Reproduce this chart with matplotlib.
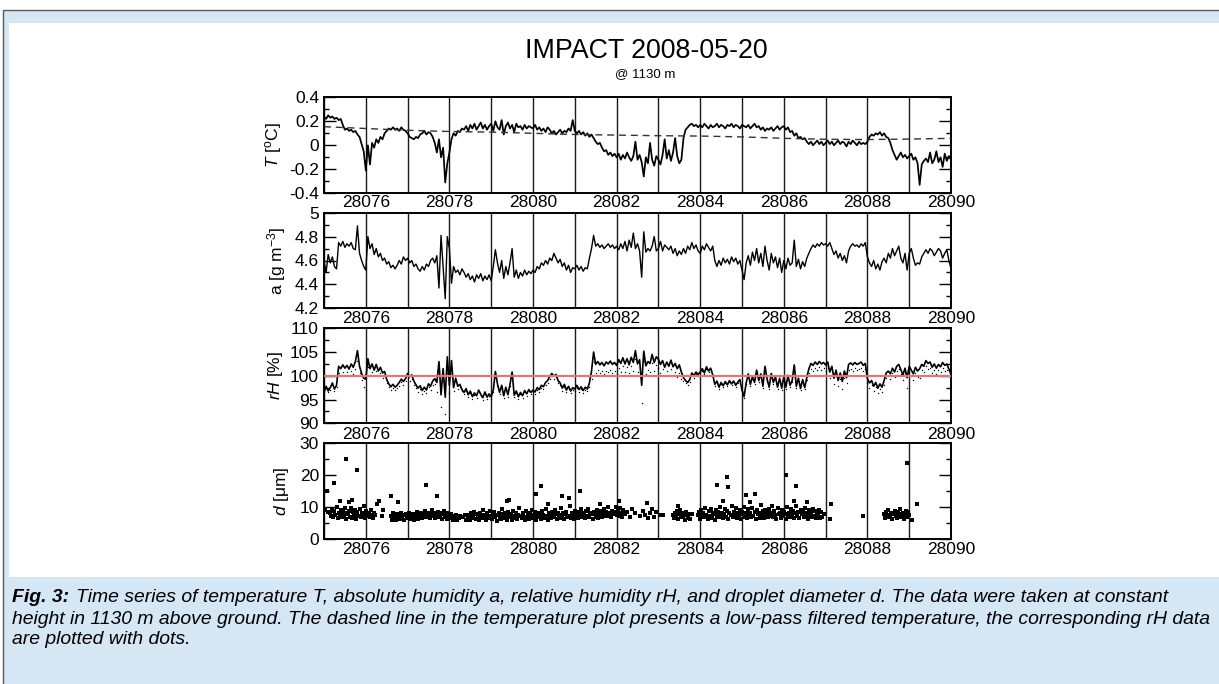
import numpy as np
import matplotlib
matplotlib.use("Agg")
import matplotlib.pyplot as plt
from matplotlib.ticker import MultipleLocator, FormatStrFormatter
from matplotlib.patches import Rectangle
from matplotlib import font_manager

# ---------------------------------------------------------------- data
# line series are sampled every 0.05 from 28075 to 28090
t_start, t_step = 28075.0, 0.05

temp_c = [
    0.24, 0.22, 0.25, 0.23, 0.24, 0.22, 0.23, 0.21, 0.22, 0.17, 0.13, 0.14, 0.12, 0.13, 0.11, 0.12, 0.09, 0.07, 0.01, -0.05,
    -0.21, 0.00, -0.16, 0.02, -0.02, 0.05, 0.02, 0.07, 0.05, 0.10, 0.12, 0.14, 0.13, 0.15, 0.13, 0.14, 0.12, 0.15, 0.13, 0.12,
    0.10, 0.07, 0.06, 0.05, 0.07, 0.06, 0.09, 0.10, 0.12, 0.09, 0.11, 0.10, 0.07, 0.02, -0.06, 0.05, -0.10, -0.02, -0.31, -0.15,
    -0.06, 0.05, 0.10, 0.08, 0.12, 0.11, 0.14, 0.13, 0.16, 0.12, 0.17, 0.14, 0.18, 0.13, 0.16, 0.19, 0.14, 0.17, 0.13, 0.16,
    0.18, 0.12, 0.20, 0.15, 0.13, 0.21, 0.09, 0.16, 0.19, 0.14, 0.17, 0.11, 0.18, 0.15, 0.16, 0.13, 0.17, 0.14, 0.16, 0.15,
    0.14, 0.17, 0.13, 0.15, 0.12, 0.14, 0.11, 0.15, 0.13, 0.10, 0.12, 0.09, 0.11, 0.13, 0.10, 0.12, 0.11, 0.14, 0.12, 0.21,
    0.12, 0.10, 0.12, 0.09, 0.11, 0.08, 0.10, 0.07, 0.09, 0.06, 0.03, 0.01, 0.02, -0.02, -0.05, -0.04, -0.08, -0.06, -0.09, -0.07,
    -0.10, -0.07, -0.12, -0.08, -0.11, -0.06, -0.10, -0.13, -0.09, 0.03, -0.12, -0.08, -0.14, -0.26, -0.10, -0.15, 0.02, -0.12, -0.17, -0.09,
    -0.12, -0.16, -0.08, 0.05, -0.11, -0.04, -0.13, -0.06, 0.06, -0.09, -0.15, -0.12, 0.06, 0.13, 0.15, 0.17, 0.18, 0.16, 0.17, 0.15,
    0.17, 0.15, 0.18, 0.16, 0.14, 0.17, 0.15, 0.16, 0.18, 0.15, 0.17, 0.16, 0.14, 0.17, 0.16, 0.18, 0.15, 0.17, 0.16, 0.14,
    0.17, 0.16, 0.15, 0.17, 0.14, 0.16, 0.18, 0.15, 0.16, 0.13, 0.15, 0.12, 0.14, 0.13, 0.15, 0.12, 0.14, 0.16, 0.13, 0.15,
    0.16, 0.13, 0.15, 0.11, 0.12, 0.08, 0.10, 0.06, 0.07, 0.05, 0.06, 0.03, 0.01, 0.03, 0.00, 0.02, 0.04, 0.01, 0.03, 0.00,
    0.02, 0.04, 0.01, 0.03, 0.00, 0.02, 0.04, 0.01, 0.03, 0.02, -0.01, 0.03, 0.01, 0.04, 0.02, 0.00, 0.03, 0.01, 0.02, 0.01,
    0.03, 0.07, 0.09, 0.08, 0.10, 0.09, 0.11, 0.08, 0.10, 0.07, 0.06, 0.02, -0.04, -0.08, -0.12, -0.09, -0.06, -0.10, -0.08, -0.11,
    -0.09, -0.07, -0.12, -0.10, -0.15, -0.33, -0.16, -0.13, -0.11, -0.14, -0.06, -0.15, -0.12, -0.05, -0.14, -0.10, -0.18, -0.07, -0.13, -0.09,
    -0.12,
]

# low-pass filtered temperature, one value per time unit
temp_lp_t = [28075, 28076, 28077, 28078, 28079, 28080, 28081, 28082,
             28083, 28084, 28085, 28086, 28087, 28088, 28089, 28090]
temp_lp = [0.155, 0.14, 0.125, 0.115, 0.11, 0.10, 0.09, 0.085,
           0.08, 0.077, 0.07, 0.058, 0.05, 0.048, 0.052, 0.058]

abs_hum = [
    4.60, 4.50, 4.65, 4.58, 4.63, 4.55, 4.53, 4.75, 4.72, 4.76, 4.71, 4.74, 4.72, 4.75, 4.70, 4.69, 4.89, 4.66, 4.60, 4.55,
    4.52, 4.80, 4.70, 4.74, 4.65, 4.70, 4.63, 4.66, 4.60, 4.62, 4.57, 4.59, 4.54, 4.56, 4.53, 4.56, 4.60, 4.57, 4.63, 4.60,
    4.62, 4.58, 4.60, 4.55, 4.57, 4.53, 4.51, 4.55, 4.52, 4.57, 4.55, 4.60, 4.62, 4.58, 4.64, 4.37, 4.81, 4.55, 4.28, 4.80,
    4.70, 4.41, 4.55, 4.50, 4.52, 4.48, 4.53, 4.50, 4.46, 4.49, 4.44, 4.47, 4.42, 4.48, 4.45, 4.49, 4.43, 4.47, 4.44, 4.48,
    4.43, 4.55, 4.69, 4.58, 4.50, 4.60, 4.45, 4.55, 4.48, 4.58, 4.70, 4.46, 4.52, 4.45, 4.50, 4.47, 4.52, 4.48, 4.51, 4.49,
    4.52, 4.50, 4.55, 4.53, 4.58, 4.56, 4.60, 4.57, 4.62, 4.60, 4.66, 4.62, 4.58, 4.61, 4.55, 4.58, 4.52, 4.56, 4.50, 4.54,
    4.53, 4.56, 4.52, 4.55, 4.51, 4.54, 4.53, 4.62, 4.70, 4.81, 4.72, 4.74, 4.71, 4.73, 4.70, 4.72, 4.74, 4.71, 4.73, 4.70,
    4.72, 4.69, 4.74, 4.70, 4.76, 4.68, 4.77, 4.71, 4.83, 4.70, 4.74, 4.68, 4.46, 4.84, 4.67, 4.70, 4.68, 4.72, 4.80, 4.68,
    4.70, 4.76, 4.68, 4.73, 4.71, 4.69, 4.72, 4.66, 4.70, 4.64, 4.68, 4.65, 4.70, 4.66, 4.72, 4.69, 4.75, 4.70, 4.73, 4.68,
    4.66, 4.72, 4.69, 4.74, 4.71, 4.68, 4.72, 4.60, 4.55, 4.60, 4.56, 4.62, 4.58, 4.61, 4.57, 4.63, 4.59, 4.62, 4.57, 4.60,
    4.52, 4.44, 4.58, 4.64, 4.56, 4.67, 4.60, 4.70, 4.58, 4.66, 4.55, 4.72, 4.60, 4.52, 4.66, 4.58, 4.63, 4.54, 4.62, 4.50,
    4.60, 4.53, 4.62, 4.56, 4.58, 4.77, 4.55, 4.61, 4.53, 4.59, 4.55, 4.62, 4.66, 4.70, 4.73, 4.71, 4.74, 4.72, 4.75, 4.73,
    4.74, 4.72, 4.75, 4.70, 4.65, 4.68, 4.62, 4.66, 4.60, 4.64, 4.58, 4.68, 4.72, 4.74, 4.72, 4.73, 4.71, 4.74, 4.72, 4.75,
    4.63, 4.58, 4.55, 4.60, 4.53, 4.57, 4.52, 4.59, 4.62, 4.58, 4.66, 4.62, 4.70, 4.64, 4.68, 4.72, 4.62, 4.58, 4.66, 4.52,
    4.66, 4.70, 4.62, 4.56, 4.58, 4.57, 4.63, 4.66, 4.69, 4.66, 4.70, 4.68, 4.64, 4.67, 4.70, 4.68, 4.62, 4.66, 4.69, 4.60,
    4.53,
]

rel_hum = [
    96.5, 97.8, 96.8, 97.5, 98.5, 97.2, 98.0, 102.0, 101.5, 102.3, 101.6, 102.2, 101.4, 102.5, 101.8, 103.0, 105.3, 102.0, 100.5, 99.5,
    99.3, 103.6, 101.5, 102.5, 101.2, 102.4, 101.0, 101.8, 100.6, 100.9, 99.2, 98.3, 97.7, 98.2, 97.6, 98.0, 98.6, 99.3, 98.8, 99.4,
    100.5, 99.8, 100.2, 98.9, 98.1, 97.4, 97.9, 96.9, 97.6, 97.0, 98.3, 97.8, 98.9, 99.4, 98.6, 103.0, 96.0, 101.5, 95.5, 104.0,
    98.0, 103.2, 97.5, 99.5, 97.8, 98.2, 97.1, 96.5, 97.3, 96.0, 96.8, 95.6, 96.4, 95.8, 97.0, 96.1, 95.4, 96.6, 95.5, 96.2,
    95.6, 97.0, 100.9, 98.3, 96.5, 98.0, 95.8, 97.6, 96.0, 98.2, 100.8, 95.9, 96.8, 95.6, 96.5, 95.8, 96.9, 96.2, 97.1, 96.5,
    97.0, 96.6, 97.5, 97.1, 98.0, 97.7, 98.6, 99.0, 99.8, 100.5, 99.9, 100.3, 99.0, 98.5, 97.4, 98.2, 97.0, 97.8, 96.8, 97.5,
    97.2, 98.0, 97.1, 97.7, 96.9, 97.6, 97.2, 98.5, 101.0, 105.0, 102.4, 103.0, 102.3, 102.8, 102.1, 102.9, 102.5, 103.1, 102.4, 102.8,
    102.2, 103.4, 102.6, 103.8, 102.5, 103.6, 102.3, 103.9, 102.8, 105.3, 102.5, 103.4, 98.0, 105.2, 102.1, 103.0, 102.6, 104.5, 102.8, 104.0,
    103.5, 102.4, 103.2, 101.8, 102.9, 102.0, 103.3, 101.9, 102.6, 101.5, 102.3, 100.8, 99.6, 99.0, 98.6, 99.2, 100.6, 100.0, 100.8, 100.3,
    100.8, 101.5, 100.6, 101.9, 101.0, 101.6, 100.2, 98.2, 98.9, 97.6, 98.6, 97.9, 98.8, 98.1, 99.0, 98.3, 98.9, 98.0, 98.7, 99.2,
    97.0, 95.6, 98.5, 100.4, 98.2, 99.8, 98.6, 101.2, 99.0, 100.4, 97.8, 102.0, 99.3, 97.6, 100.5, 98.6, 99.8, 97.6, 99.5, 97.4,
    99.8, 97.6, 100.1, 98.0, 99.0, 102.3, 97.8, 99.5, 97.3, 99.2, 97.5, 99.6, 101.5, 102.6, 102.2, 102.9, 102.4, 103.0, 102.5, 102.8,
    102.3, 102.9, 100.8, 102.0, 99.5, 101.2, 99.0, 100.6, 98.8, 101.0, 99.6, 102.4, 102.7, 102.3, 102.8, 102.4, 102.6, 102.9, 102.2, 102.6,
    99.4, 98.5, 99.0, 97.8, 98.6, 97.4, 98.3, 97.6, 99.0, 100.6, 101.0, 100.4, 101.6, 100.8, 102.0, 102.4, 101.3, 100.2, 101.6, 99.6,
    102.0, 101.2, 100.4, 101.8, 101.0, 101.5, 102.4, 102.0, 103.2, 102.6, 102.9, 101.8, 102.5, 101.6, 102.4, 101.9, 102.8, 102.2, 102.5, 101.4,
    100.3,
]

# rH obtained with the low-pass filtered temperature (dots)
rel_hum_lp = [
    96.2, 97.4, 96.5, 97.1, 98.1, 96.9, 97.6, 100.6, 100.1, 100.7, 100.2, 100.8, 100.0, 101.0, 100.4, 101.4, 103.2, 100.6, 99.2, 97.6,
    97.0, 101.9, 100.2, 100.8, 100.1, 101.0, 100.0, 100.6, 99.6, 99.9, 98.4, 97.6, 97.0, 97.5, 97.0, 97.4, 97.9, 98.6, 98.1, 98.8,
    99.6, 99.0, 99.3, 98.1, 97.4, 96.6, 97.2, 96.1, 96.9, 96.3, 97.6, 97.0, 98.1, 98.3, 96.5, 100.8, 93.5, 99.0, 92.0, 100.5,
    96.4, 101.6, 96.8, 98.9, 97.3, 97.7, 96.7, 96.1, 96.9, 95.6, 96.4, 95.2, 96.0, 95.4, 96.6, 95.7, 95.0, 96.2, 95.1, 95.8,
    95.2, 96.6, 100.4, 97.9, 96.1, 97.6, 95.4, 97.2, 95.6, 97.8, 100.3, 95.5, 96.4, 95.2, 96.1, 95.4, 96.5, 95.8, 96.7, 96.1,
    96.5, 96.1, 97.0, 96.6, 97.5, 97.2, 98.1, 98.5, 99.3, 100.0, 99.4, 99.8, 98.5, 98.0, 96.9, 97.7, 96.5, 97.3, 96.3, 97.0,
    96.7, 97.5, 96.6, 97.2, 96.4, 97.1, 96.7, 97.6, 99.4, 103.0, 100.6, 101.2, 100.5, 101.0, 100.3, 101.1, 100.7, 101.3, 100.6, 101.0,
    100.4, 101.6, 100.8, 102.0, 100.7, 101.8, 100.5, 102.1, 101.0, 103.5, 100.7, 101.6, 94.2, 103.2, 100.3, 101.2, 100.8, 102.7, 101.0, 102.2,
    101.7, 100.6, 101.4, 100.0, 101.1, 100.2, 101.5, 100.1, 100.8, 99.7, 100.5, 99.3, 98.8, 98.4, 98.1, 98.7, 100.1, 99.6, 100.3, 99.9,
    100.5, 101.1, 100.3, 101.5, 100.7, 101.2, 99.9, 97.9, 98.6, 97.3, 98.3, 97.6, 98.5, 97.8, 98.7, 98.0, 98.6, 97.7, 98.4, 98.9,
    96.7, 95.3, 98.2, 100.1, 97.9, 99.5, 98.3, 100.9, 98.7, 100.1, 97.5, 101.7, 99.0, 97.3, 100.2, 98.3, 99.5, 97.3, 99.2, 97.1,
    99.5, 97.3, 99.8, 97.7, 98.7, 102.0, 97.5, 99.2, 97.0, 98.9, 97.2, 99.2, 100.5, 101.4, 101.0, 101.7, 101.2, 101.8, 101.3, 101.6,
    101.1, 101.7, 99.6, 100.8, 98.3, 99.9, 97.8, 99.4, 97.2, 99.6, 98.4, 101.2, 101.5, 101.1, 101.6, 101.2, 101.4, 101.7, 101.0, 101.4,
    98.4, 97.5, 98.0, 96.8, 97.6, 96.4, 97.3, 96.6, 98.0, 99.6, 100.0, 99.4, 100.6, 99.8, 101.0, 101.4, 100.3, 99.2, 100.6, 97.4,
    100.8, 100.0, 99.2, 100.6, 99.8, 99.5, 101.2, 100.8, 102.0, 101.4, 101.7, 100.6, 101.3, 100.4, 101.2, 100.7, 101.6, 101.0, 101.3, 100.2,
    99.1,
]

# droplet diameter: continuous runs sampled every 0.025, with their start times
d_step = 0.025
d_run_starts = [28075.15, 28076.60, 28078.45, 28083.35, 28083.95, 28088.40]
d_run1 = [8.2, 7.1, 9.4, 6.8, 8.7, 7.5, 10.1, 6.5, 8.0, 7.7, 9.0, 6.9, 8.5, 7.3, 9.6, 6.4, 8.1, 7.8, 8.9, 7.0,
          9.8, 6.7, 8.4, 7.6, 9.2, 6.3, 8.6, 7.2, 9.5, 6.9, 8.0, 7.4, 10.3, 6.6, 8.8, 7.9, 7.1, 8.3, 6.8, 9.1,
          7.5, 6.6, 8.2]
d_run2 = [7.2, 6.1, 8.0, 6.6, 7.5, 5.8, 7.9, 6.8, 7.1, 6.3, 8.3, 6.9, 7.4, 5.9, 7.7, 6.5, 7.0, 8.1, 6.2, 7.3,
          6.7, 7.8, 6.0, 7.5, 6.9, 8.4, 6.4, 7.6, 7.0, 8.2, 6.6, 7.9, 7.3, 8.8, 6.8, 7.4, 8.0, 6.5, 7.7, 9.0,
          7.1, 8.3, 6.7, 7.8, 7.2, 8.6, 6.9, 7.5, 8.1, 6.4, 7.9, 8.9, 7.0, 7.6, 6.3, 8.2, 7.4, 6.6, 7.8, 6.1,
          7.2, 6.8, 7.5, 5.9, 7.0, 6.5, 7.3]
d_run3 = [6.8, 7.5, 5.9, 8.1, 6.6, 7.2, 8.6, 6.3, 7.8, 7.0, 6.1, 8.3, 7.4, 6.7, 9.0, 6.9, 7.6, 5.8, 8.0, 7.3,
          6.5, 8.8, 7.1, 6.2, 7.9, 8.4, 6.8, 7.5, 5.7, 8.2, 7.0, 6.4, 9.3, 7.7, 6.6, 8.0, 7.2, 6.0, 8.5, 7.4,
          6.9, 7.8, 5.9, 8.9, 6.7, 7.3, 8.1, 6.3, 7.6, 9.6, 7.1, 6.5, 8.3, 7.0, 5.8, 8.7, 6.8, 7.5, 6.2, 8.0,
          7.4, 9.1, 6.6, 7.2, 8.4, 5.9, 7.7, 6.9, 8.2, 7.0, 6.3, 8.8, 7.5, 6.7, 9.4, 7.1, 6.0, 8.1, 7.6, 6.5,
          8.5, 7.3, 6.8, 9.0, 7.8, 6.2, 8.3, 7.0, 6.6, 9.7, 7.4, 8.0, 6.4, 7.9, 8.6, 6.9, 7.2, 10.2, 6.7, 8.1,
          7.5, 6.3, 8.9, 7.1, 7.8, 6.5, 8.4, 7.3, 9.3, 6.8, 8.0, 7.6, 6.6, 8.7, 7.2, 9.5, 6.9, 8.2, 7.7, 6.4,
          8.5, 7.9, 7.0, 9.1, 6.7, 8.3, 7.4, 8.8, 6.8, 8.0, 9.4, 7.3, 8.6, 7.1, 9.9, 7.6, 8.2, 6.9, 8.9, 7.8,
          8.4, 10.1, 7.5, 8.7, 7.2, 9.6, 8.0, 7.0, 9.2, 8.3, 7.7]
d_run4 = [7.4, 6.5, 8.2, 7.0, 8.8, 6.3, 7.7, 9.2, 6.9, 8.0, 7.2, 6.1, 8.5, 7.5, 6.7, 7.9, 6.4]
d_run5 = [7.5, 8.6, 6.4, 9.1, 7.2, 8.0, 6.8, 9.7, 7.6, 6.2, 8.8, 7.3, 9.4, 6.6, 8.2, 7.9, 6.0, 9.0, 7.1, 8.5,
          6.9, 9.9, 7.4, 8.3, 6.5, 7.8, 9.3, 7.0, 8.7, 6.3, 8.1, 7.6, 10.4, 6.8, 8.4, 7.2, 9.6, 6.7, 8.0, 7.5,
          9.1, 6.4, 8.6, 7.9, 10.0, 7.0, 8.3, 6.6, 9.5, 7.7, 8.2, 6.9, 9.8, 7.3, 8.5, 6.2, 9.2, 7.8, 8.0, 6.7,
          10.6, 7.4, 8.7, 6.5, 9.0, 7.6, 8.4, 6.8, 9.4, 7.1, 8.1, 10.2, 6.9, 8.8, 7.5, 6.3, 9.6, 7.9, 8.3, 6.6,
          9.1, 7.2, 8.6, 7.7, 6.4, 9.9, 7.0, 8.2, 6.8, 9.3, 7.6, 8.9, 6.5, 8.0, 10.5, 7.3, 8.4, 6.7, 9.2, 7.8,
          8.5, 6.9, 9.7, 7.4, 8.1, 6.2, 9.0, 7.6, 8.3, 6.8, 9.5, 7.1, 8.7, 6.5, 8.0, 7.3, 9.1, 6.6, 8.4, 7.0,
          7.8]
d_run6 = [7.8, 6.5, 8.4, 7.2, 9.0, 6.8, 7.6, 8.2, 6.3, 7.9, 8.8, 7.1, 6.6, 8.5, 7.4, 9.3, 6.9, 7.7, 8.1, 6.4,
          7.5, 8.9, 7.0, 8.3, 7.6]

# isolated droplet samples
d_single_t = [28075.03, 28075.06, 28075.10, 28075.24, 28075.38, 28075.53, 28075.60, 28075.68, 28075.79,
              28076.22, 28076.27, 28076.31, 28076.38, 28076.42, 28076.60, 28076.78, 28077.43, 28077.70,
              28078.33, 28078.38, 28078.40, 28079.38, 28079.42, 28080.07, 28080.20, 28080.35, 28080.70,
              28080.85, 28081.12, 28081.60, 28082.05, 28082.25, 28082.32, 28082.38, 28082.45, 28082.55,
              28082.62, 28082.68, 28082.72, 28082.75, 28082.80, 28082.85, 28082.90, 28082.95, 28083.05,
              28083.12, 28083.47, 28083.80, 28084.40, 28084.55, 28084.65, 28084.67, 28085.10, 28085.20,
              28085.30, 28086.05, 28086.25, 28086.30, 28086.55, 28087.10, 28087.13, 28087.90, 28088.94,
              28088.97, 28089.06, 28089.18]
d_single_um = [9.0, 15.0, 8.5, 17.5, 12.0, 25.0, 11.5, 12.2, 21.5,
               7.5, 11.0, 12.0, 7.2, 9.0, 13.4, 11.5, 17.0, 13.4,
               6.8, 7.5, 6.0, 11.8, 12.2, 14.0, 16.5, 11.0, 13.5,
               13.0, 15.0, 11.0, 11.8, 8.5, 7.0, 9.5, 8.0, 7.2,
               8.8, 7.5, 11.2, 6.5, 8.2, 9.5, 7.0, 8.6, 7.5,
               7.5, 10.3, 7.8, 16.9, 12.0, 19.5, 16.2, 13.8, 11.5,
               14.1, 20.0, 11.8, 16.6, 11.5, 6.2, 11.0, 7.2, 23.9,
               8.5, 6.0, 11.0]

x_min, x_max = 28075, 28090
rh_ref = 100

# ---------------------------------------------------------------- style
names = {f.name for f in font_manager.fontManager.ttflist}
main_font = "Liberation Sans" if "Liberation Sans" in names else "DejaVu Sans"
plt.rcParams["font.family"] = [main_font, "DejaVu Sans"]
plt.rcParams["axes.unicode_minus"] = False
plt.rcParams["mathtext.fontset"] = "custom"
plt.rcParams["mathtext.rm"] = main_font
plt.rcParams["mathtext.it"] = main_font + ":italic"

W, H = 1219, 684
fig = plt.figure(figsize=(W / 100, H / 100), dpi=100)
fig.patch.set_facecolor("white")

blue = "#d5e6f5"
fig.add_artist(Rectangle((3 / W, -0.1), 1.2, 1 - 10 / H + 0.1, transform=fig.transFigure,
                         facecolor=blue, edgecolor="#5a5a5a", linewidth=1.0, zorder=0))
fig.add_artist(Rectangle((9 / W, 1 - 577 / H), 1.2, (577 - 23) / H, transform=fig.transFigure,
                         facecolor="white", edgecolor="none", zorder=0))


def px_axes(top, bottom, left=324, right=951):
    return [left / W, 1 - bottom / H, (right - left) / W, (bottom - top) / H]


rects = [px_axes(97.3, 193.3), px_axes(212.7, 308.3), px_axes(328.3, 423.3), px_axes(443.3, 539.0)]
axes = [fig.add_axes(r) for r in rects]

t_line = t_start + t_step * np.arange(len(temp_c))

ax1, ax2, ax3, ax4 = axes
ax1.plot(t_line, temp_c, color="black", lw=1.25, zorder=3)
ax1.plot(temp_lp_t, temp_lp, color="#333333", lw=1.0, dashes=(5, 3.5), zorder=4)

ax2.plot(t_line, abs_hum, color="black", lw=1.0, zorder=3)

ax3.plot(t_line, rel_hum_lp, linestyle="none", marker="o", markersize=1.0,
         markeredgewidth=0, color="black", zorder=3)
ax3.plot(t_line, rel_hum, color="black", lw=1.2, zorder=3)
ax3.axhline(rh_ref, color="#f07070", lw=1.5, zorder=5)

for start, run in zip(d_run_starts, [d_run1, d_run2, d_run3, d_run4, d_run5, d_run6]):
    tt = start + d_step * np.arange(len(run))
    ax4.plot(tt, run, linestyle="none", marker="s", markersize=2.4,
             markeredgewidth=0, color="black", zorder=3)
ax4.plot(d_single_t, d_single_um, linestyle="none", marker="s", markersize=2.2,
         markeredgewidth=0, color="black", zorder=3)

ylims = [(-0.4, 0.4), (4.2, 5.0), (90, 110), (0, 30)]
majors = [0.2, 0.2, 5, 10]
minors = [0.1, 0.1, 2.5, 5]
ylabels = [r"$T$ [$^{\mathrm{o}}$C]", r"a [g m$^{-3}$]", r"$rH$ [%]", r"$d$ [μm]"]
label_x = [-0.064, -0.058, -0.062, -0.052]
xpads = [1.0, 2.0, 2.5, 2.5]

for ax, yl, mj, mn, lab, lx, xp in zip(axes, ylims, majors, minors, ylabels, label_x, xpads):
    ax.set_xlim(x_min, x_max)
    ax.set_ylim(*yl)
    ax.xaxis.set_major_locator(MultipleLocator(2))
    ax.xaxis.set_minor_locator(MultipleLocator(1))
    ax.xaxis.set_major_formatter(FormatStrFormatter("%d"))
    ax.yaxis.set_major_locator(MultipleLocator(mj))
    ax.yaxis.set_minor_locator(MultipleLocator(mn))
    ax.yaxis.set_major_formatter(FormatStrFormatter("%g"))
    ax.grid(True, which="both", axis="x", color="#1a1a1a", lw=1.0, zorder=1)
    ax.set_axisbelow(True)
    ax.tick_params(axis="x", which="both", length=0, labelsize=12.5, pad=xp)
    ax.tick_params(axis="y", which="both", direction="in", left=True, right=True,
                   labelsize=12.5, pad=3.6, width=1.0)
    ax.tick_params(axis="y", which="major", length=8.5)
    ax.tick_params(axis="y", which="minor", length=3.8)
    for s in ax.spines.values():
        s.set_linewidth(1.4)
    ax.set_ylabel(lab, fontsize=12.5)
    ax.yaxis.set_label_coords(lx, 0.5)

# titles
fig.text(646 / W, 1 - 51 / H, "IMPACT 2008-05-20", ha="center", va="center", fontsize=19.3)
fig.text(645 / W, 1 - 74 / H, "@ 1130 m", ha="center", va="center", fontsize=9.5)

# caption, sized so that the two full lines span the text block
line1 = ("Time series of temperature T, absolute humidity a, relative humidity rH, "
         "and droplet diameter d. The data were taken at constant")
line2 = ("height in 1130 m above ground. The dashed line in the temperature plot presents "
         "a low-pass filtered temperature, the corresponding rH data")
line3 = "are plotted with dots."
cap_kw = dict(family=[main_font], style="italic", va="center", ha="left")

fig_lbl = fig.text(12 / W, 1 - 597 / H, "Fig. 3:", weight="bold", fontsize=11, **cap_kw)
t1 = fig.text(76 / W, 1 - 597 / H, line1, fontsize=11, **cap_kw)
t2 = fig.text(12 / W, 1 - 619 / H, line2, fontsize=11, **cap_kw)
t3 = fig.text(12 / W, 1 - 640 / H, line3, fontsize=11, **cap_kw)
fig.canvas.draw()
scale = min((1213 - 76) / t1.get_window_extent().width,
            (1214 - 12) / t2.get_window_extent().width)
cap_size = 11 * scale
for t in (fig_lbl, t1, t2, t3):
    t.set_fontsize(cap_size)

fig.savefig("out.png", dpi=100, facecolor=fig.get_facecolor())
